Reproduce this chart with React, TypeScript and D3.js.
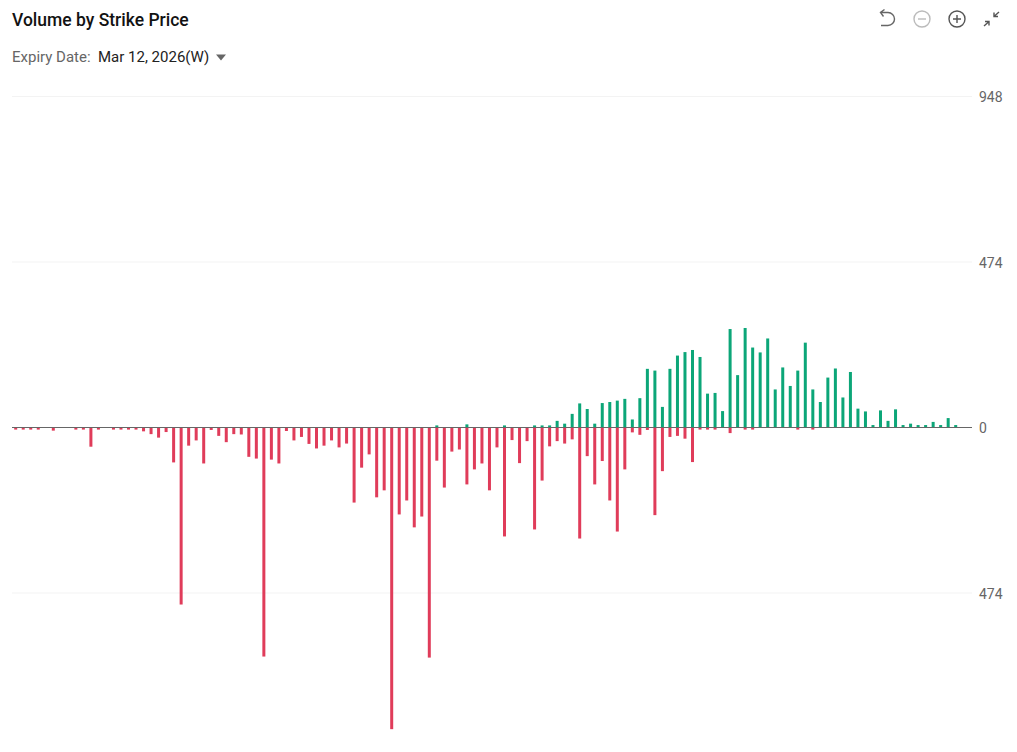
import React, { useEffect, useRef } from 'react';
import * as d3 from 'd3';

const WIDTH = 1017;
const HEIGHT = 752;

// volume per strike, low strike to high strike
const putVolume = [
  6, 6, 6, 6, 0, 9, 0, 0, 6, 6,
  55, 6, 0, 6, 6, 6, 6, 11, 19, 29,
  13, 100, 507, 52, 37, 103, 7, 24, 42, 19,
  20, 84, 89, 656, 92, 103, 10, 37, 27, 47,
  60, 52, 37, 57, 46, 215, 115, 77, 200, 180,
  864, 249, 209, 286, 255, 659, 95, 172, 69, 63,
  163, 120, 103, 180, 57, 312, 36, 102, 39, 292,
  152, 54, 39, 46, 34, 318, 82, 163, 96, 209,
  298, 120, 14, 21, 7, 251, 125, 27, 24, 32,
  99, 6, 6, 6, 0, 16, 0, 6, 6, 0,
  0, 0, 0, 0, 6, 0, 6, 0, 0, 0,
  0, 0, 0, 0, 0, 0, 0, 0, 0, 0,
  0, 0, 0, 0, 0, 0,
];

const callVolume = [
  0, 0, 0, 0, 0, 0, 0, 0, 0, 0,
  0, 0, 0, 0, 0, 0, 0, 0, 0, 0,
  0, 0, 0, 0, 0, 0, 0, 0, 0, 0,
  0, 0, 0, 0, 0, 0, 0, 0, 0, 0,
  0, 0, 0, 0, 0, 0, 0, 0, 0, 0,
  0, 0, 0, 0, 0, 0, 6, 0, 0, 0,
  9, 0, 0, 0, 0, 6, 0, 0, 0, 6,
  6, 6, 19, 11, 39, 69, 53, 11, 70, 73,
  77, 82, 23, 84, 168, 163, 59, 168, 206, 216,
  222, 202, 97, 99, 47, 282, 150, 285, 229, 215,
  255, 109, 172, 119, 163, 243, 109, 73, 143, 169,
  86, 159, 54, 46, 7, 49, 19, 52, 7, 11,
  7, 7, 16, 7, 27, 7,
];

const yTicks = [948, 474, 0, -474];

const GREEN = '#0ca678';
const RED = '#e03c5a';

const App: React.FC = () => {
  const svgRef = useRef<SVGSVGElement>(null);

  useEffect(() => {
    if (!svgRef.current) return;
    const svg = d3.select(svgRef.current);
    svg.selectAll('*').remove();

    const x = d3.scaleLinear().domain([0, putVolume.length - 1]).range([15.7, 955.7]);
    const y = d3.scaleLinear().domain([948, -948]).range([96.5, 758.5]);
    const barWidth = 3;

    // --- Grid and right axis labels ---
    svg.append('g')
      .selectAll('line')
      .data(yTicks)
      .join('line')
      .attr('x1', 12)
      .attr('x2', 972)
      .attr('y1', d => y(d))
      .attr('y2', d => y(d))
      .attr('stroke', '#f3f3f3')
      .attr('stroke-width', 1);

    svg.append('g')
      .selectAll('text')
      .data(yTicks)
      .join('text')
      .attr('x', 979)
      .attr('y', d => y(d) + 5.5)
      .attr('font-size', 14)
      .attr('fill', '#666')
      .text(d => Math.abs(d));

    // --- Bars ---
    svg.append('g')
      .selectAll('rect')
      .data(putVolume)
      .join('rect')
      .attr('x', (d, i) => x(i) - barWidth / 2)
      .attr('y', y(0))
      .attr('width', barWidth)
      .attr('height', d => y(-d) - y(0))
      .attr('fill', RED);

    svg.append('g')
      .selectAll('rect')
      .data(callVolume)
      .join('rect')
      .attr('x', (d, i) => x(i) - barWidth / 2)
      .attr('y', d => y(d))
      .attr('width', barWidth)
      .attr('height', d => y(0) - y(d))
      .attr('fill', GREEN);

    // zero line sits over the bars
    svg.append('line')
      .attr('x1', 12)
      .attr('x2', 972)
      .attr('y1', y(0))
      .attr('y2', y(0))
      .attr('stroke', '#666')
      .attr('stroke-width', 1);

    // --- Header ---
    svg.append('text')
      .attr('x', 12)
      .attr('y', 25.6)
      .attr('font-size', 17.5)
      .attr('font-weight', 500)
      .attr('fill', '#121212')
      .text('Volume by Strike Price');

    svg.append('text')
      .attr('x', 12)
      .attr('y', 62)
      .attr('font-size', 15)
      .attr('fill', '#666')
      .text('Expiry Date:');

    svg.append('text')
      .attr('x', 98)
      .attr('y', 62)
      .attr('font-size', 15)
      .attr('fill', '#222')
      .text('Mar 12, 2026(W)');

    svg.append('path')
      .attr('d', 'M216 54.5h10l-5 6z')
      .attr('fill', '#666');

    // --- Toolbar icons ---
    const icons = svg.append('g').attr('fill', 'none').attr('stroke-width', 1.4);

    icons.append('path')
      .attr('d', 'M881 12.5h7a6.5 6.5 0 0 1 0 13h-7M884.5 9.5l-4 3 3 4')
      .attr('stroke', '#666');

    icons.append('circle').attr('cx', 922).attr('cy', 19).attr('r', 8).attr('stroke', '#bbb');
    icons.append('path').attr('d', 'M918 19h8').attr('stroke', '#bbb');

    icons.append('circle').attr('cx', 957).attr('cy', 19).attr('r', 8).attr('stroke', '#555');
    icons.append('path').attr('d', 'M953 19h8M957 15v8').attr('stroke', '#555');

    icons.append('path')
      .attr('d', 'M999 12l-4.5 4M994 12.5v4h4M984 26l4.5-4M989 25.5v-4h-4')
      .attr('stroke', '#555');
  }, []);

  return (
    <svg
      ref={svgRef}
      width={WIDTH}
      height={HEIGHT}
      viewBox={`0 0 ${WIDTH} ${HEIGHT}`}
      style={{ position: 'absolute', left: 0, top: 0, fontFamily: 'Roboto, sans-serif', background: '#fff' }}
    />
  );
};

export default App;
